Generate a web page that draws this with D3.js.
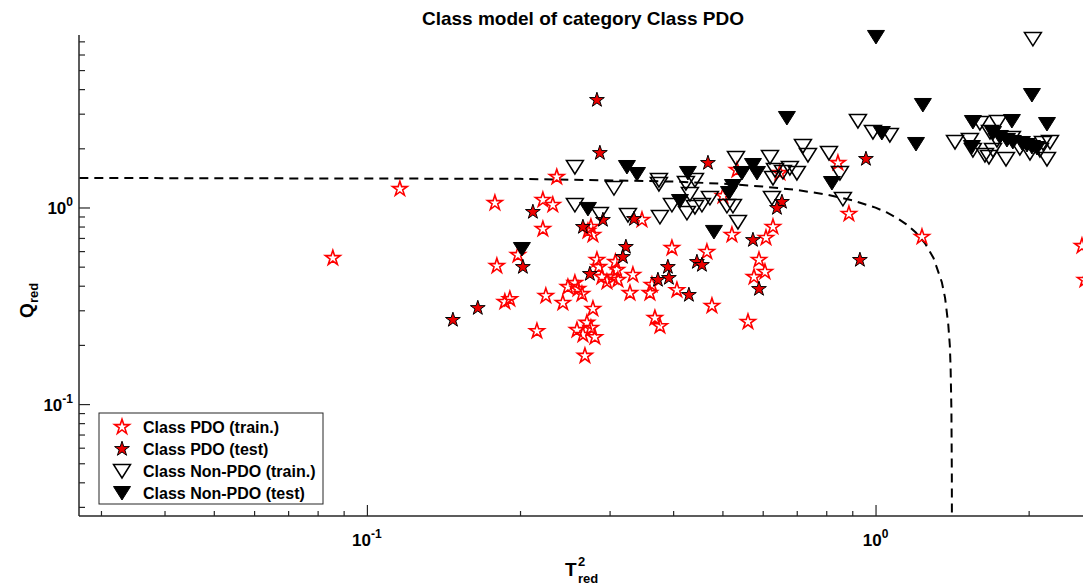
<!DOCTYPE html>
<html>
<head>
<meta charset="utf-8">
<script src="https://cdn.jsdelivr.net/npm/d3@7"></script>
<style>
  body { margin: 0; background: #fff; }
  text { font-family: "Liberation Sans", Arial, sans-serif; font-weight: bold; fill: #000; }
</style>
</head>
<body>
<svg id="chart" width="1083" height="585"></svg>
<script>
// values (T2red, Qred)
const pdoTrainT2 = [0.0857,0.1161,0.1785,0.1801,0.1867,0.1910,0.1981,0.2159,0.2218,0.2320,0.2362,0.2218,0.2248,0.2428,0.2484,0.2564,0.2600,0.2647,0.2707,0.2757,0.2588,0.2659,0.2807,0.2683,0.2782,0.2757,0.2782,0.2720,0.2833,0.2858,0.2897,0.2964,0.3046,0.3101,0.3115,0.3474,0.3334,0.3290,0.3634,0.3601,0.4069,0.3978,0.4661,0.5340,0.5012,0.5220,0.6286,0.6090,0.5900,0.6062,0.5768,0.6486,0.8435,0.8865,1.234,2.546,2.58,0.3683,0.3768,0.4768,0.5613,0.3080]
const pdoTrainQ  = [0.553,1.242,1.054,0.504,0.331,0.342,0.573,0.235,1.092,1.030,1.429,0.777,0.355,0.327,0.394,0.413,0.385,0.363,0.259,0.244,0.238,0.225,0.219,0.176,0.305,0.796,0.725,0.759,0.541,0.498,0.443,0.418,0.443,0.481,0.428,0.864,0.454,0.367,0.404,0.367,0.380,0.622,0.594,1.551,1.144,0.725,0.796,0.700,0.541,0.470,0.443,1.498,1.684,0.927,0.708,0.637,0.428,0.274,0.249,0.316,0.262,0.528]

const pdoTestT2 = [0.1476,0.1652,0.2026,0.2120,0.2833,0.2871,0.2659,0.2911,0.2744,0.3350,0.3230,0.3186,0.3906,0.3734,0.3924,0.4296,0.4455,0.4557,0.4683,0.5741,0.5900,0.6546,0.6400,0.9575,0.9317]
const pdoTestQ  = [0.268,0.308,0.498,0.949,3.522,1.893,0.796,0.864,0.459,0.874,0.630,0.560,0.498,0.428,0.438,0.359,0.528,0.510,1.684,0.683,0.385,1.067,0.994,1.765,0.541]

const nonTrainT2 = [0.2564,0.2564,0.2871,0.3060,0.3260,0.3751,0.3751,0.3768,0.3978,0.4238,0.4415,0.4316,0.4258,0.4415,0.4557,0.4725,0.5103,0.5244,0.5364,0.5316,0.6201,0.6343,0.6286,0.6257,0.6786,0.7005,0.6575,0.7199,0.7364,0.8099,0.8511,0.8627,0.9234,0.9883,1.067,2.039,1.433,1.533,1.554,1.604,1.741,1.641,1.671,1.805,2.173,2.203,1.679,1.733,1.854,1.922,2.012,2.105,2.134,1.702]
const nonTrainQ  = [1.607,1.030,0.927,1.256,0.916,1.380,1.317,0.895,1.030,1.332,1.380,1.171,0.938,1.006,1.030,1.118,1.018,1.018,0.844,1.786,1.806,1.551,1.413,1.118,1.588,1.498,1.516,2.055,1.849,1.893,1.498,1.105,2.754,2.421,2.338,7.20,2.154,2.204,1.961,2.691,2.722,1.849,1.806,1.765,1.765,2.154,2.421,2.204,2.257,2.007,1.893,1.961,2.129,1.961]

const nonTestT2 = [0.2017,0.2720,0.3245,0.3396,0.4277,0.4125,0.4812,0.5462,0.5741,0.5847,0.5244,0.5150,0.6695,0.8209,1.002,1.029,1.239,1.201,2.030,1.554,1.854,2.173,1.547,1.702,1.756,1.813,1.862,1.940,1.985,2.030,2.077]
const nonTestQ  = [0.615,0.983,1.607,1.480,1.498,1.079,0.751,1.498,1.645,1.498,1.286,1.185,2.853,1.332,7.37,2.393,3.322,2.104,3.734,2.722,2.754,2.659,2.031,2.393,2.284,2.204,2.154,2.129,2.079,2.031,2.007]

// class limit curve
const limitT2 = [0.0272,0.2,0.4,0.5,0.6,0.7,0.8,0.9,1.0,1.05,1.1,1.15,1.2,1.25,1.3,1.35,1.37,1.39,1.40,1.405,1.41,1.4125,1.413]
const limitQ  = [1.413,1.399,1.355,1.321,1.279,1.228,1.165,1.089,0.998,0.946,0.887,0.821,0.746,0.659,0.554,0.417,0.347,0.254,0.198,0.150,0.092,0.045,0.027]

const yMajor = [0.1, 1]
const yMinor = [0.03,0.04,0.05,0.06,0.07,0.08,0.09,0.2,0.3,0.4,0.5,0.6,0.7,0.8,0.9,2,3,4,5,6,7]
const xMajor = [0.1, 1]
const xMinor = [0.03,0.04,0.05,0.06,0.07,0.08,0.09,0.2,0.3,0.4,0.5,0.6,0.7,0.8,0.9,2]
const majorLabels = { "0.1": "-1", "1": "0" }

const legendNames = ["Class PDO (train.)", "Class PDO (test)", "Class Non-PDO (train.)", "Class Non-PDO (test)"]

const svg = d3.select("#chart")
const axisColor = "#262626"

const x = d3.scaleLog().domain([0.02716, 2.558]).range([79, 1083])
const y = d3.scaleLog().domain([0.02696, 7.54]).range([516, 35])

const zip = (a, b) => a.map((v, i) => [v, b[i]])

const starPath = d3.symbol(d3.symbolStar, 68)()
const triPath = "M-8.5,-6.5L8.5,-6.5L0,7Z"

// limit line
svg.append("path")
  .datum(zip(limitT2, limitQ))
  .attr("d", d3.line().x(d => x(d[0])).y(d => y(d[1])))
  .attr("fill", "none")
  .attr("stroke", "#000")
  .attr("stroke-width", 2)
  .attr("stroke-dasharray", "9,6")

const styles = [
  { path: starPath, fill: "none", stroke: "#ff0000", sw: 1.6 },
  { path: starPath, fill: "#ee0000", stroke: "#000", sw: 1 },
  { path: triPath, fill: "none", stroke: "#000", sw: 1.5 },
  { path: triPath, fill: "#000", stroke: "#000", sw: 1 }
]

const series = [zip(pdoTrainT2, pdoTrainQ), zip(pdoTestT2, pdoTestQ), zip(nonTrainT2, nonTrainQ), zip(nonTestT2, nonTestQ)]

series.forEach((pts, i) => {
  const s = styles[i]
  svg.append("g").selectAll("path")
    .data(pts)
    .join("path")
    .attr("d", s.path)
    .attr("transform", d => `translate(${x(d[0])},${y(d[1])})`)
    .attr("fill", s.fill)
    .attr("stroke", s.stroke)
    .attr("stroke-width", s.sw)
})

// y axis
const gy = svg.append("g").attr("transform", "translate(79,0)")
  .call(d3.axisLeft(y).tickValues(yMajor.concat(yMinor)).tickFormat("").tickSizeOuter(0))
gy.select(".domain").attr("stroke", axisColor).attr("stroke-width", 1.5).attr("d", "M0,35V516")
gy.selectAll(".tick line")
  .attr("stroke", axisColor).attr("stroke-width", 1.2)
  .attr("x2", d => yMajor.includes(d) ? 11 : 6)

yMajor.forEach(v => {
  const t = svg.append("text")
    .attr("x", 73).attr("y", y(v) + 7)
    .attr("text-anchor", "end")
    .style("font-size", "17px")
  t.append("tspan").text("10")
  t.append("tspan").attr("dy", -8).style("font-size", "12px").text(majorLabels[String(v)])
})

// x axis
const gx = svg.append("g").attr("transform", "translate(0,516)")
  .call(d3.axisBottom(x).tickValues(xMajor.concat(xMinor)).tickFormat("").tickSizeOuter(0))
gx.select(".domain").attr("stroke", axisColor).attr("stroke-width", 1.5).attr("d", "M79,0H1083")
gx.selectAll(".tick line")
  .attr("stroke", axisColor).attr("stroke-width", 1.2)
  .attr("y2", d => xMajor.includes(d) ? -11 : -5)

xMajor.forEach(v => {
  const t = svg.append("text")
    .attr("x", x(v)).attr("y", 546)
    .attr("text-anchor", "middle")
    .style("font-size", "17px")
  t.append("tspan").text("10")
  t.append("tspan").attr("dy", -8).style("font-size", "12px").text(majorLabels[String(v)])
})

// axis titles
svg.append("text").attr("x", 565).attr("y", 576).style("font-size", "19px").text("T")
svg.append("text").attr("x", 578).attr("y", 566).style("font-size", "13px").text("2")
svg.append("text").attr("x", 578).attr("y", 583).style("font-size", "13px").text("red")

const yl = svg.append("g").attr("transform", "translate(33,318) rotate(-90)")
yl.append("text").attr("x", 0).attr("y", 0).style("font-size", "19px").text("Q")
yl.append("text").attr("x", 15).attr("y", 5).style("font-size", "13px").text("red")

svg.append("text")
  .attr("x", 583).attr("y", 25)
  .attr("text-anchor", "middle")
  .style("font-size", "19px")
  .text("Class model of category Class PDO")

// legend
const lg = svg.append("g")
lg.append("rect")
  .attr("x", 99).attr("y", 413).attr("width", 224).attr("height", 91)
  .attr("fill", "#fff").attr("stroke", axisColor).attr("stroke-width", 1)

legendNames.forEach((name, i) => {
  const cy = 427 + i * 22
  const s = styles[i]
  lg.append("path")
    .attr("d", s.path)
    .attr("transform", `translate(122,${cy})`)
    .attr("fill", s.fill).attr("stroke", s.stroke).attr("stroke-width", s.sw)
  lg.append("text")
    .attr("x", 143).attr("y", cy + 6)
    .style("font-size", "16px")
    .text(name)
})
</script>
</body>
</html>
